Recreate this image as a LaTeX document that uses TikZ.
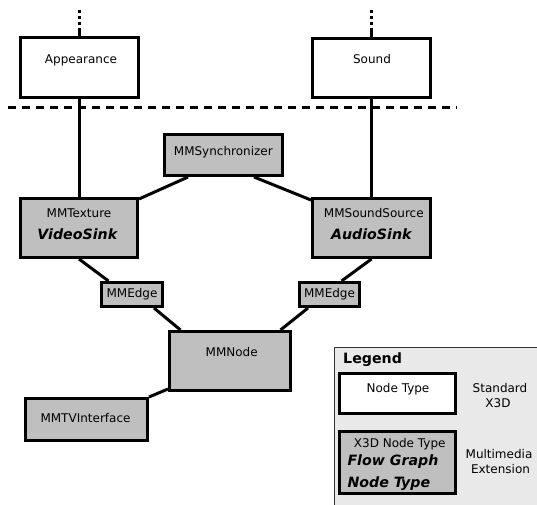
\documentclass[tikz,border=0pt]{standalone}
\usepackage{fontspec}
\setmainfont{DejaVu Sans}
\usetikzlibrary{calc}
\definecolor{boxgray}{RGB}{191,191,191}
\definecolor{legendgray}{RGB}{233,233,233}

\begin{document}
\begin{tikzpicture}[x=1pt,y=-1pt,
        std/.style={draw,line width=3pt,fill=white,inner sep=0pt},
        ext/.style={draw,line width=3pt,fill=boxgray,inner sep=0pt},
        conn/.style={line width=3pt},
        txt/.style={font=\fontsize{12}{14}\selectfont,inner sep=0pt,anchor=base},
        fg/.style={font=\fontsize{14.2}{17}\selectfont\bfseries\itshape,inner sep=0pt,anchor=base}]
        \useasboundingbox (0,0) rectangle (537,504);

        \node[draw=black!80,line width=1.2pt,fill=legendgray,inner sep=0pt,
              minimum width=220,minimum height=170,anchor=north west] (legend) at (333.5,346.5) {};
        \node[font=\fontsize{14.2}{17}\selectfont\bfseries,inner sep=0pt,anchor=base west] (legendtitle) at (343,363.7) {Legend};

        \draw[conn,dash pattern=on 8pt off 6pt] (8,107) coordinate (sepleft) -- (457,107) coordinate (sepright);

        \node[std,minimum width=118,minimum height=60] (appearance) at (79.5,67.5) {};
        \node[std,minimum width=118,minimum height=59] (sound) at (371.5,68) {};
        \node[txt] (appearancetxt) at (81,63) {Appearance};
        \node[txt] (soundtxt) at (372,63) {Sound};

        \coordinate (apptop) at (79.5,10);
        \coordinate (soundtop) at (371.5,10);
        \draw[conn,dash pattern=on 3pt off 3pt on 3pt off 3pt on 3pt off 3pt on 30pt] (apptop) -- (appearance.north);
        \draw[conn,dash pattern=on 3pt off 3pt on 3pt off 3pt on 3pt off 3pt on 30pt] (soundtop) -- (sound.north);

        \node[ext,minimum width=118,minimum height=41] (sync) at (223.5,155) {};
        \node[txt] (synctxt) at (223.3,155.5) {MMSynchronizer};

        \node[ext,minimum width=117,minimum height=59] (texture) at (79,228) {};
        \node[txt] (texturetxt) at (79,217) {MMTexture};
        \node[fg] (videosink) at (77.3,239) {VideoSink};

        \node[ext,minimum width=118,minimum height=59] (soundsource) at (371.5,228) {};
        \node[txt] (soundsourcetxt) at (373.8,217) {MMSoundSource};
        \node[fg] (audiosink) at (371.3,239) {AudioSink};

        \node[ext,minimum width=61,minimum height=24] (edgeleft) at (132,294.5) {};
        \node[txt] (edgelefttxt) at (132,297) {MMEdge};
        \node[ext,minimum width=60,minimum height=24] (edgeright) at (329.5,294.5) {};
        \node[txt] (edgerighttxt) at (329.5,297) {MMEdge};

        \node[ext,minimum width=121,minimum height=59] (mmnode) at (230,361) {};
        \node[txt] (mmnodetxt) at (231.7,356.5) {MMNode};

        \node[ext,minimum width=122,minimum height=42] (tvinterface) at (86.5,419.5) {};
        \node[txt] (tvinterfacetxt) at (85.5,422) {MMTVInterface};

        \draw[conn] (appearance.south) -- (appearance.south |- texture.north);
        \draw[conn] (sound.south) -- (sound.south |- soundsource.north);
        \draw[conn] ($(sync.south)+(-35.5,0)$) -- ($(texture.north east)+(0,2)$);
        \draw[conn] ($(sync.south)+(30.5,0)$) -- ($(soundsource.north west)+(0,3)$);
        \draw[conn] (texture.south) -- ($(edgeleft.north west)+(8.5,0)$);
        \draw[conn] (soundsource.south) -- ($(edgeright.north east)+(-19.5,0)$);
        \draw[conn] ($(edgeleft.south)+(22,0)$) -- ($(mmnode.north west)+(12.5,0)$);
        \draw[conn] ($(edgeright.south)+(-21.5,0)$) -- ($(mmnode.north east)+(-11.5,0)$);
        \draw[conn] ($(mmnode.south west)+(0,-3)$) -- (tvinterface.north east);

        \node[std,minimum width=116,minimum height=40] (legendstd) at (397.5,393.5) {};
        \node[txt] (legendstdtxt) at (398,392) {Node Type};
        \node[txt] (standard) at (500,392) {Standard};
        \node[txt] (xthreed) at (498,407) {X3D};

        \node[ext,minimum width=116,minimum height=62] (legendext) at (397.5,462.5) {};
        \node[txt] (legendexttxt) at (399.7,447) {X3D Node Type};
        \node[fg,anchor=base west] (flowgraph) at (347.3,465.4) {Flow Graph};
        \node[fg,anchor=base west] (flownodetype) at (347.3,487) {Node Type};
        \node[txt] (multimedia) at (499,458.5) {Multimedia};
        \node[txt] (extension) at (500.5,473) {Extension};
\end{tikzpicture}
\end{document}
